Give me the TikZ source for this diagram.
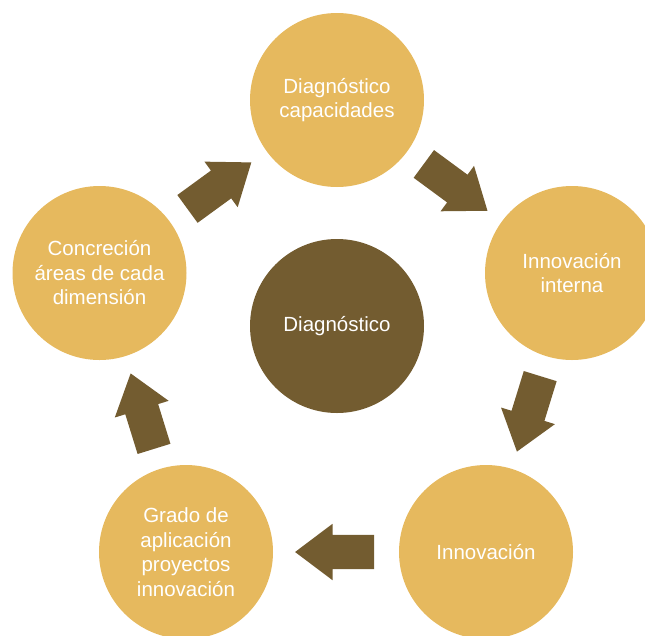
\documentclass[tikz,border=0pt]{standalone}
\usepackage{fontspec}
\setmainfont{Liberation Sans}
\usetikzlibrary{shapes.arrows}
\definecolor{stagegold}{HTML}{E6B95E}
\definecolor{corebrown}{HTML}{735C30}
\begin{document}
\begin{tikzpicture}[x=1pt,y=-1pt,
  stage/.style={circle,fill=stagegold,minimum size=174pt,inner sep=0pt,align=center,
    text=white,font=\fontsize{20.5}{24.5}\selectfont},
  core/.style={stage,fill=corebrown},
  flow/.style={single arrow,fill=corebrown,minimum height=79pt,minimum width=56pt,
    single arrow head extend=11pt,single arrow tip angle=74,inner xsep=0pt,inner ysep=17pt,
    sloped,allow upside down,xshift=-10pt}]
  \useasboundingbox (0,0) rectangle (645,635);
  \clip (0,0) rectangle (645,635);

  % Circles
  \node[core] (diag) at (337,326) {Diagnóstico};
  \node[stage] (capac) at (337,100) {Diagnóstico\\capacidades};
  \node[stage] (intern) at (572,273) {Innovación\\interna};
  \node[stage] (innov) at (486,552) {Innovación};
  \node[stage] (grado) at (186,552) {Grado de\\aplicación\\proyectos\\innovación};
  \node[stage] (areas) at (99.5,273) {Concreción\\áreas de cada\\dimensión};

  % Arrows
  \path (capac) -- (intern) node[flow,midway] (a1) {};
  \path (intern) -- (innov) node[flow,midway] (a2) {};
  \path (innov) -- (grado) node[flow,midway] (a3) {};
  \path (grado) -- (areas) node[flow,midway] (a4) {};
  \path (areas) -- (capac) node[flow,midway] (a5) {};
\end{tikzpicture}
\end{document}
